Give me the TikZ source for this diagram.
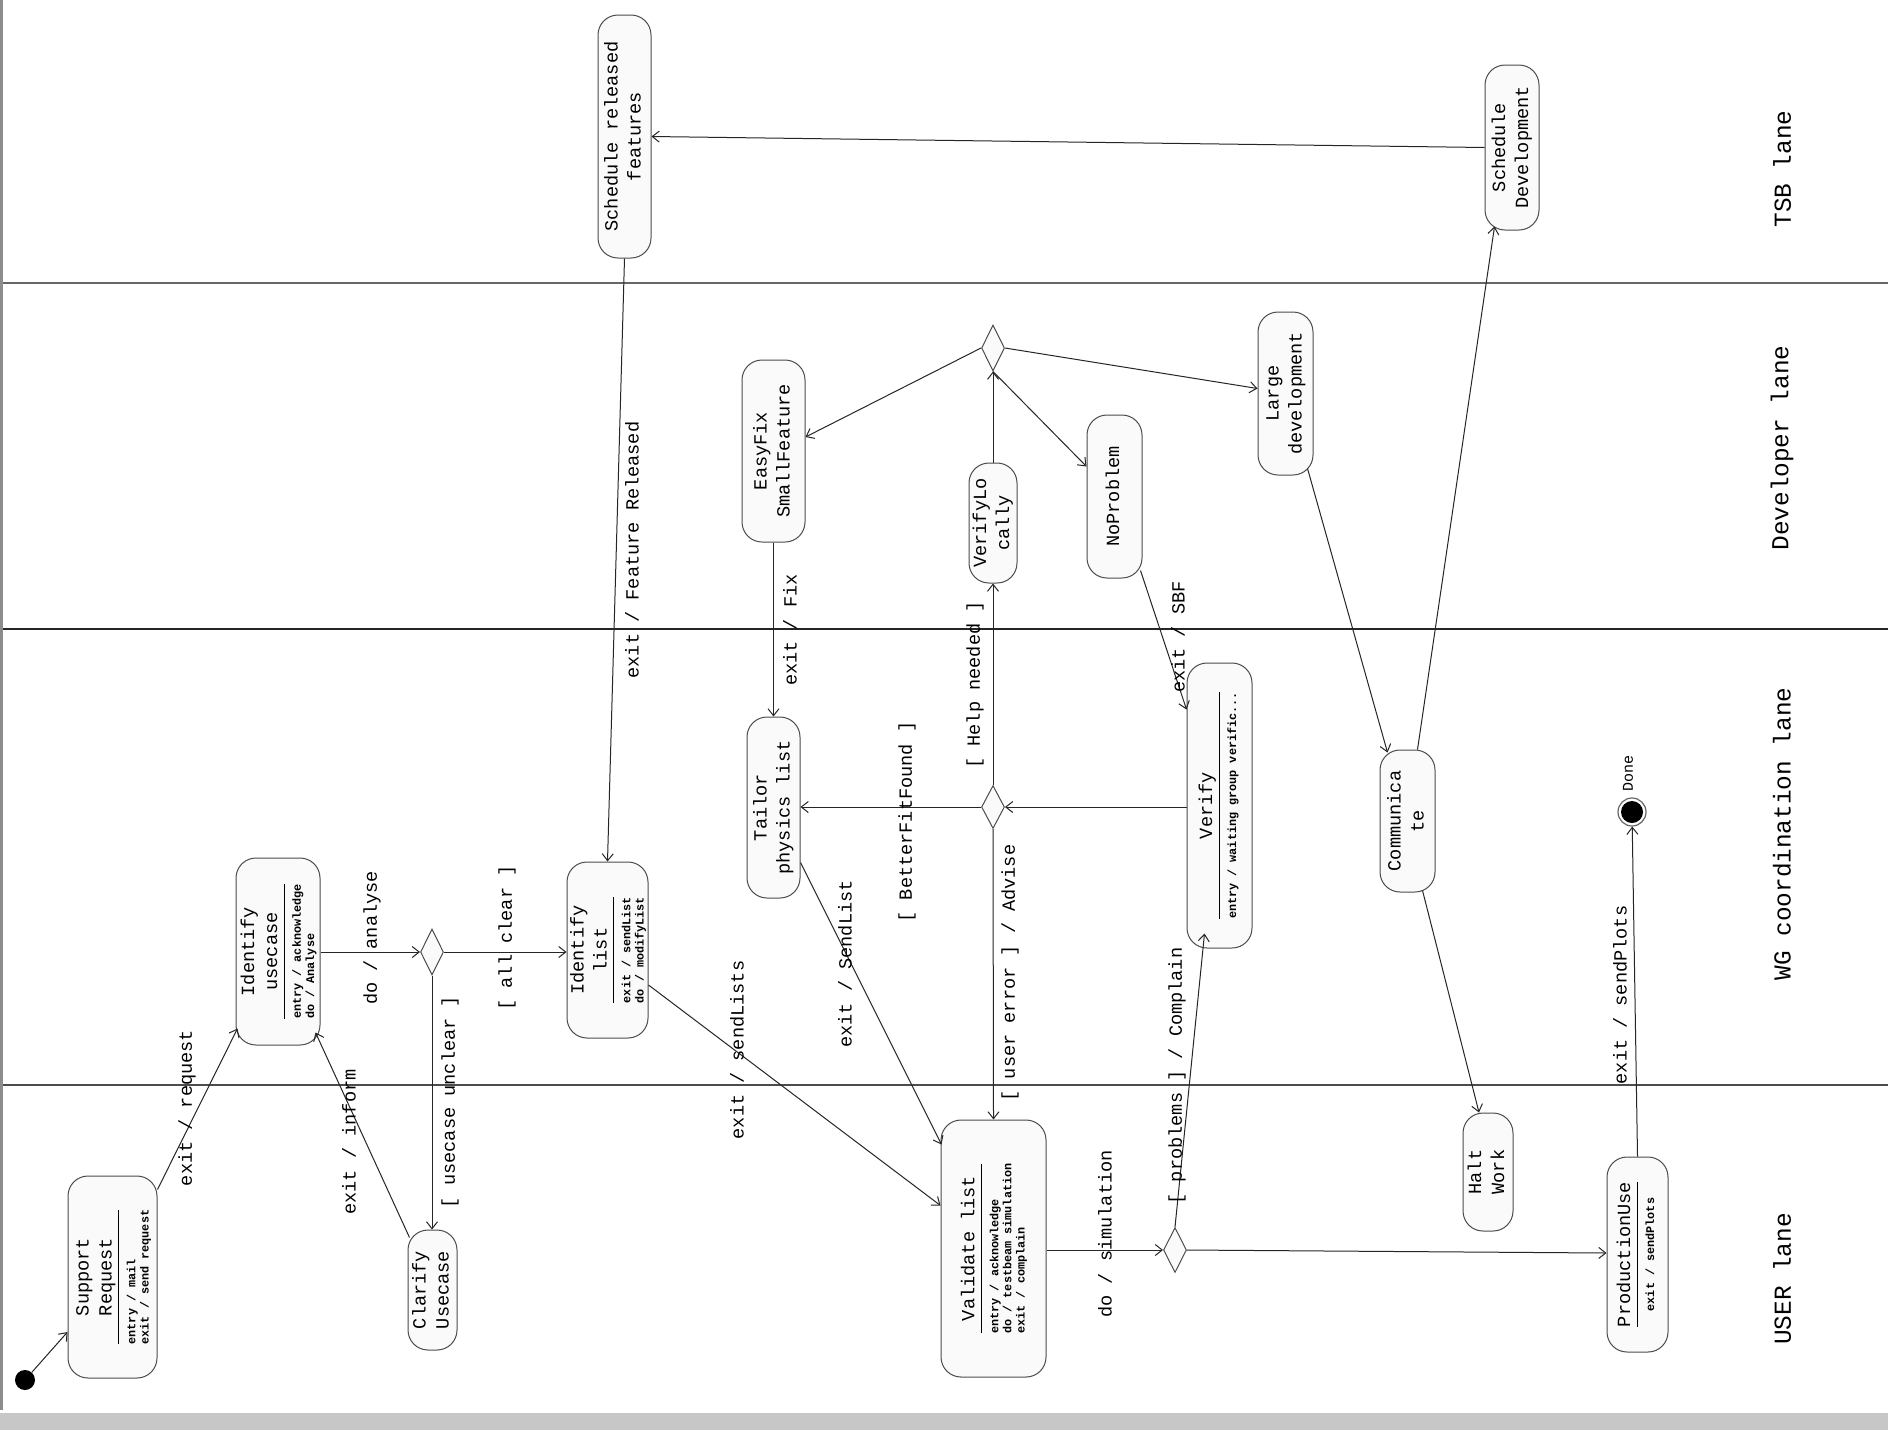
\documentclass[tikz,border=0pt]{standalone}
\usepackage{fontspec}
\usepackage{graphicx}
\usetikzlibrary{shapes.geometric,arrows.meta,calc}
\newfontfamily\monof{Liberation Mono}
\newcommand\ttl{\monof\fontsize{9.3}{11.5}\selectfont}
\newcommand\smf{\monof\bfseries\fontsize{5.9}{6.6}\selectfont}
\newcommand\lbf{\monof\fontsize{9.3}{11}\selectfont}
\newcommand\lanef{\monof\fontsize{12.2}{14}\selectfont}
\newcommand\rt[1]{\rotatebox{90}{\begin{tabular}{@{}c@{}}#1\end{tabular}}}
\newcommand\rts[2]{\rotatebox{90}{\begin{tabular}{@{}c@{}}#1\\\hline{\smf\begin{tabular}[t]{@{}l@{}}#2\end{tabular}}\end{tabular}}}
\begin{document}
\begin{tikzpicture}[x=0.5pt,y=-0.5pt,
 st/.style={draw=black!70, fill=black!2, line width=0.5pt, rounded corners=10pt, inner sep=0pt, font=\ttl},
 dec/.style={diamond, draw=black!70, fill=black!2, line width=0.5pt, inner sep=0pt, minimum width=11.5pt, minimum height=23pt},
 conn/.style={draw=black!85, line width=0.5pt, -{Straight Barb[length=3.5pt,width=5.5pt]}},
 lab/.style={rotate=90, font=\lbf, inner sep=0pt},
 lanelab/.style={rotate=90, font=\lanef, inner sep=0pt},
 lanesep/.style={draw=black!60, line width=0.8pt}]
\useasboundingbox (0,0) rectangle (1888,1430);
\fill[white] (0,0) rectangle (1888,1430);
\fill[black!45] (0,0) rectangle (3,1410);
\fill[black!22] (0,1413) rectangle (1888,1430);
% lanes
\coordinate (l1a) at (3,283); \coordinate (l1b) at (1888,283);
\coordinate (l2a) at (3,629); \coordinate (l2b) at (1888,629);
\coordinate (l3a) at (3,1085); \coordinate (l3b) at (1888,1085);
\draw[lanesep] (l1a) -- (l1b);
\draw[lanesep, draw=black!85, line width=1.4pt] (l2a) -- (l2b);
\draw[lanesep, draw=black!70] (l3a) -- (l3b);
\node[lanelab] (tsb) at (1782,169) {TSB lane};
\node[lanelab] (dev) at (1782,448) {Developer lane};
\node[lanelab] (wg) at (1782,834) {WG coordination lane};
\node[lanelab] (usr) at (1782,1279) {USER lane};
% states
\node[circle, fill=black, minimum size=10pt, inner sep=0pt] (init) at (25,1380) {};
\node[st, minimum width=44.5pt, minimum height=101pt] (sr) at (112.5,1277) {\rts{Support\\Request}{entry / mail\\exit / send request}};
\node[st, minimum width=42pt, minimum height=93.5pt] (iu) at (278,951.5) {\rts{Identify\\usecase}{entry / acknowledge\\do / Analyse}};
\node[st, minimum width=24.5pt, minimum height=60pt] (cu) at (432.5,1290) {\rt{Clarify\\Usecase}};
\node[dec] (d1) at (432,952) {};
\node[st, minimum width=40.5pt, minimum height=88pt] (il) at (607.5,950) {\rts{Identify\\list}{exit / sendList\\do / modifyList}};
\node[st, minimum width=26.5pt, minimum height=121.5pt] (srf) at (624.5,136.5) {\rt{Schedule released\\features}};
\node[st, minimum width=27pt, minimum height=82.5pt] (sd) at (1512,147.5) {\rt{Schedule\\Development}};
\node[dec] (d2) at (993,348) {};
\node[st, minimum width=31.5pt, minimum height=91pt] (ef) at (773.5,451) {\rt{EasyFix\\SmallFeature}};
\node[st, minimum width=24pt, minimum height=60pt] (vl) at (993,523) {\rt{VerifyLo\\cally}};
\node[st, minimum width=27.5pt, minimum height=81.5pt] (np) at (1114.5,496.5) {\rt{NoProblem}};
\node[st, minimum width=27.5pt, minimum height=81.5pt] (ld) at (1285.5,393.5) {\rt{Large\\development}};
\node[st, minimum width=26.5pt, minimum height=90.5pt] (tp) at (773.5,807.5) {\rt{Tailor\\physics list}};
\node[dec, minimum height=21.5pt] (d3) at (993,807) {};
\node[st, minimum width=32.5pt, minimum height=142.5pt] (ve) at (1219.5,805.5) {\rts{Verify}{entry / waiting group verific...}};
\node[st, minimum width=27.5pt, minimum height=71pt] (co) at (1407.5,821) {\rt{Communica\\te}};
\node[circle, draw=black!60, line width=0.6pt, minimum size=14pt, inner sep=0pt] (done) at (1632,812) {};
\fill[black] (done.center) circle (5.5pt);
\node[st, minimum width=52.5pt, minimum height=128.5pt] (vd) at (993.5,1248.5) {\rts{Validate list}{entry / acknowledge\\do / testbeam simulation\\exit / complain}};
\node[dec, minimum height=22.5pt] (d4) at (1175,1250) {};
\node[st, minimum width=25pt, minimum height=59pt] (hw) at (1488,1172) {\rt{Halt\\Work}};
\node[st, minimum width=30.5pt, minimum height=97.5pt] (pu) at (1637.5,1254.5) {\rts{ProductionUse}{exit / sendPlots}};
% connectors
\draw[conn] (init) -- ($(sr.west)+(0,55)$);
\draw[conn] ($(sr.north east)+(0,14)$) -- ($(iu.south west)+(2,-17)$);
\draw[conn] ($(cu.north west)+(2,8)$) -- ($(iu.south east)+(-5,-13)$);
\draw[conn] (iu.east|-d1.west) -- (d1.west);
\draw[conn] (d1.east) -- (d1.east-|il.west);
\draw[conn] (d1.south) -- (d1.south|-cu.north);
\draw[conn] (srf.south) -- (il.north);
\draw[conn] (sd.west) -- (srf.east);
\draw[conn] (d2.west) -- ($(ef.east)+(0,-14)$);
\draw[conn] (vl.north) -- (d2.south);
\draw[conn] (d2.south) -- ($(np.north west)+(0,52)$);
\draw[conn] (d2.east) -- ($(ld.west)+(0,-5)$);
\draw[conn] ($(ld.south east)+(-6,-7)$) -- ($(co.north west)+(8,3)$);
\draw[conn] ($(np.south east)+(-2,-8)$) -- ($(ve.north west)+(0,47)$);
\draw[conn] (ef.south) -- (tp.north);
\draw[conn] (ve.west|-d3.east) -- (d3.east);
\draw[conn] (d3.west) -- (d3.west-|tp.east);
\draw[conn] (d3.north) -- (vl.south);
\draw[conn] (d3.south) -- (vd.north);
\draw[conn] ($(il.east)+(0,35)$) -- ($(vd.west)+(0,-43)$);
\draw[conn] ($(tp.east)+(0,55)$) -- ($(vd.north west)+(1,25)$);
\draw[conn] (vd.east|-d4.west) -- (d4.west);
\draw[conn] (d4.east) -- ($(pu.west)+(0,-1.5)$);
\draw[conn] (d4.north) -- ($(ve.south west)+(18,-15)$);
\draw[conn] ($(co.north)+(10,0)$) -- ($(sd.south west)+(10,-4)$);
\draw[conn] ($(co.south)+(15,-2)$) -- ($(hw.north)+(-9,0)$);
\draw[conn] (pu.north) -- (done);
% labels
\node[lab] (lreq) at (187,1108) {exit / request};
\node[lab] (linf) at (349,1142) {exit / inform};
\node[lab] (lana) at (372,938) {do / analyse};
\node[lab] (lclr) at (507,938) {[ all clear ]};
\node[lab] (lunc) at (450,1102) {[ usecase unclear ]};
\node[lab] (lfea) at (632,550) {exit / Feature Released};
\node[lab] (lsls) at (737,1050) {exit / sendLists};
\node[lab] (lsl) at (845,964) {exit / SendList};
\node[lab] (lfix) at (790,630) {exit / Fix};
\node[lab] (lbff) at (907,822) {[ BetterFitFound ]};
\node[lab] (lhelp) at (975,685) {[ Help needed ]};
\node[lab] (lerr) at (1010,973) {[ user error ] / Advise};
\node[lab] (lsbf) at (1178,637) {exit / SBF};
\node[lab] (lsim) at (1105,1234) {do / simulation};
\node[lab] (lcomp) at (1177,1076) {[ problems ] / Complain};
\node[lab] (lplot) at (1620,995) {exit / sendPlots};
\node[lab, font=\monof\fontsize{7.5}{8}\selectfont] (ldone) at (1628,773) {Done};
\end{tikzpicture}
\end{document}
